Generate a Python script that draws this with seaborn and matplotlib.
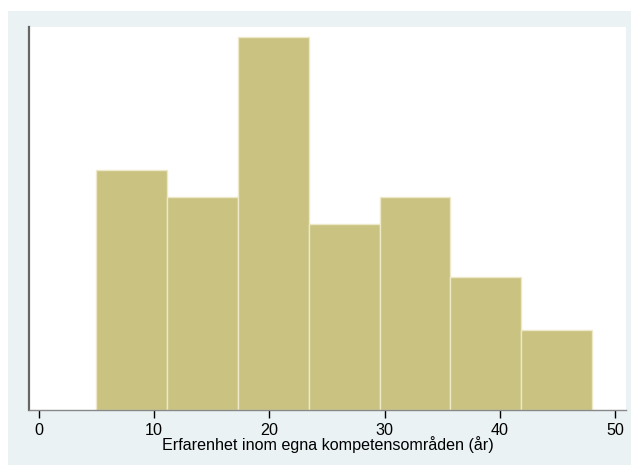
import matplotlib
matplotlib.use("Agg")
import matplotlib.pyplot as plt
import seaborn as sns
import numpy as np
import pandas as pd
from matplotlib.patches import Rectangle

# Data
bin_edges = [5.0, 11.143, 17.286, 23.429, 29.571, 35.714, 41.857, 48.0]
bin_centers = [8.07, 14.21, 20.36, 26.50, 32.64, 38.79, 44.93]
counts = [9, 8, 14, 7, 8, 5, 3]
xticks = [0, 10, 20, 30, 40, 50]
xlabel = "Erfarenhet inom egna kompetensområden (år)"

df = pd.DataFrame({"x": bin_centers, "w": counts})

sns.set_style("white")
plt.rcParams["font.family"] = ["Liberation Sans", "DejaVu Sans"]

W, H = 631, 465
fig = plt.figure(figsize=(W / 100, H / 100), dpi=100)
fig.patch.set_facecolor("white")
fig.patches.append(Rectangle((8 / W, 0), 1 - 8 / W, 1 - 11 / H,
                             transform=fig.transFigure, facecolor="#EAF2F3",
                             edgecolor="none", zorder=-10))

ax = fig.add_axes([29 / W, (H - 410) / H, (626 - 29) / W, (410 - 27) / H])
ax.set_facecolor("white")

sns.histplot(data=df, x="x", weights="w", bins=bin_edges, ax=ax,
             color="#CAC280", alpha=1, edgecolor="#ECE8C8", linewidth=1.0)

ax.set_xlim(-0.85, 50.95)
ax.set_ylim(0, 14.38)
ax.set_xticks(xticks)
ax.set_xticklabels([str(t) for t in xticks], fontsize=11.6, color="black")
ax.set_yticks([])
ax.set_ylabel("")
ax.set_xlabel(xlabel, fontsize=11.6, color="black", labelpad=-1)
ax.tick_params(axis="x", direction="out", length=6, width=1, color="black", pad=3,
               bottom=True)

for s in ["top", "right"]:
    ax.spines[s].set_visible(False)
ax.spines["left"].set_color("#666666")
ax.spines["left"].set_linewidth(1.6)
ax.spines["bottom"].set_color("#888888")
ax.spines["bottom"].set_linewidth(1.0)

fig.savefig("out.png", dpi=100)
